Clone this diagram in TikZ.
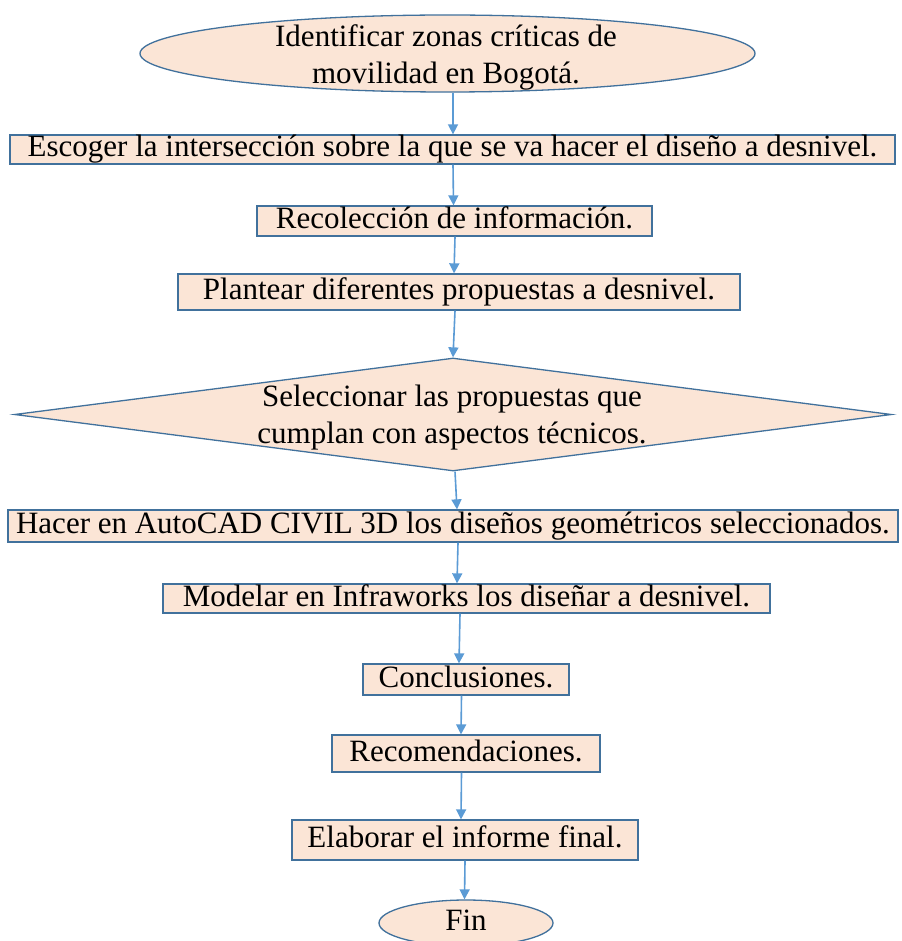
\documentclass[tikz,border=0pt]{standalone}
\usepackage{fontspec}
\setmainfont{Liberation Serif}
\usetikzlibrary{shapes.geometric,arrows.meta}
\definecolor{fillc}{HTML}{FBE5D6}
\definecolor{edgec}{HTML}{41719C}
\definecolor{arrc}{HTML}{5B9BD5}
\tikzset{
 basestyle/.style={draw=edgec, fill=fillc, line width=1.3pt, inner sep=0pt, font=\fontsize{31}{37}\selectfont},
 procbox/.style={basestyle, rectangle, text height=21.5pt, text depth=6.5pt},
 termshape/.style={basestyle, ellipse, text height=21.5pt, text depth=6.5pt},
 decshape/.style={basestyle, diamond},
 lbl/.style={inner sep=0pt, align=center, font=\fontsize{31}{37}\selectfont},
 flow/.style={draw=arrc, line width=1.6pt, -{Triangle[length=10pt,width=10pt]}},
}
\begin{document}
\begin{tikzpicture}[x=1pt,y=-1pt]
\clip (0,0) rectangle (901,941);
\fill[white] (0,0) rectangle (901,941);

\node[termshape, minimum width=615pt, minimum height=77pt] (e1) at (447.5,53.5) {};
\node[lbl] (e1t) at (446,57) {Identificar zonas críticas de\\movilidad en Bogotá.};

\node[procbox, minimum width=885pt, minimum height=29pt] (b1) at (452.5,149.5) {Escoger la intersección sobre la que se va hacer el diseño a desnivel.};
\node[procbox, minimum width=395pt, minimum height=30pt] (b2) at (454.5,221) {Recolección de información.};
\node[procbox, minimum width=562pt, minimum height=36pt] (b3) at (459,292) {Plantear diferentes propuestas a desnivel.};

\node[decshape, minimum width=877pt, minimum height=113pt] (dm) at (453,414.5) {};
\node[lbl] (dmt) at (452,417.5) {Seleccionar las propuestas que\\cumplan con aspectos técnicos.};

\node[procbox, minimum width=890pt, minimum height=32pt] (b6) at (453,526) {Hacer en AutoCAD CIVIL 3D los diseños geométricos seleccionados.};
\node[procbox, minimum width=607pt, minimum height=29pt] (b7) at (466.5,598.5) {Modelar en Infraworks los diseñar a desnivel.};
\node[procbox, minimum width=206pt, minimum height=31pt] (b8) at (466,679.5) {Conclusiones.};
\node[procbox, minimum width=268pt, minimum height=37pt] (b9) at (466,753.5) {Recomendaciones.};
\node[procbox, minimum width=346pt, minimum height=40pt] (b10) at (465,840) {Elaborar el informe final.};
\node[termshape, minimum width=174pt, minimum height=46pt] (fin) at (466,923) {Fin};

\draw[flow] ([xshift=5.5pt]e1.south) -- ([xshift=0.5pt]b1.north);
\draw[flow] ([xshift=0.5pt]b1.south) -- ([xshift=-1pt]b2.north);
\draw[flow] ([xshift=0.5pt]b2.south) -- ([xshift=-5pt]b3.north);
\draw[flow] ([xshift=-4pt]b3.south) -- (dm.north);
\draw[flow] ([xshift=2pt]dm.south) -- ([xshift=4pt]b6.north);
\draw[flow] ([xshift=5pt]b6.south) -- ([xshift=-9.5pt]b7.north);
\draw[flow] ([xshift=-6.5pt]b7.south) -- ([xshift=-7pt]b8.north);
\draw[flow] ([xshift=-4.5pt]b8.south) -- ([xshift=-5pt]b9.north);
\draw[flow] ([xshift=-4.5pt]b9.south) -- ([xshift=-4pt]b10.north);
\draw[flow] (b10.south) -- ([xshift=-1.5pt]fin.north);
\end{tikzpicture}
\end{document}
